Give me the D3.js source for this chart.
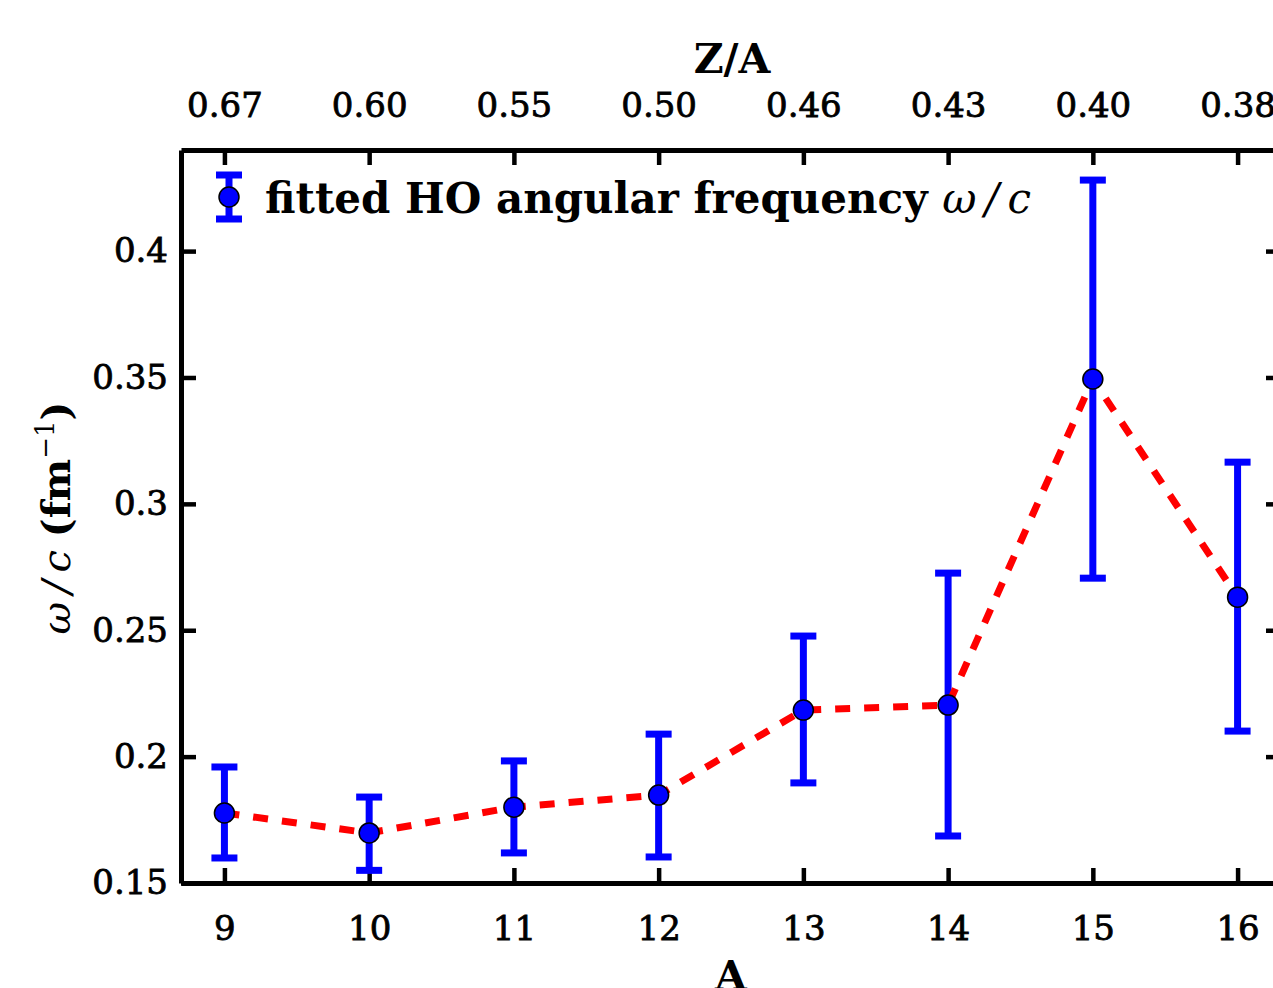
<!DOCTYPE html>
<html>
<head>
<meta charset="utf-8">
<script src="https://cdn.jsdelivr.net/npm/d3@7"></script>
<style>
  body { margin: 0; background: #fff; }
  svg { display: block; font-family: "DejaVu Serif", serif; }
</style>
</head>
<body>
<svg id="chart" width="1273" height="988"></svg>
<script>
// mass number A, fitted omega/c and its error bounds
const massNumbers = [9, 10, 11, 12, 13, 14, 15, 16];
const omegaValues = [0.1777, 0.1698, 0.1800, 0.1848, 0.2184, 0.2204, 0.3494, 0.2631];
const omegaLower  = [0.1599, 0.1550, 0.1619, 0.1603, 0.1896, 0.1686, 0.2706, 0.2101];
const omegaUpper  = [0.1959, 0.1840, 0.1983, 0.2089, 0.2477, 0.2726, 0.4281, 0.3165];
const zOverA      = ["0.67", "0.60", "0.55", "0.50", "0.46", "0.43", "0.40", "0.38"];
const yTicks      = [0.15, 0.2, 0.25, 0.3, 0.35, 0.4];

const svg = d3.select("#chart");
const plotLeft = 181, plotRight = 1281, plotTop = 150, plotBottom = 883;
const blue = "#0000ff", red = "#ff0000";

const data = massNumbers.map((a, i) => ({
  a: a, w: omegaValues[i], lo: omegaLower[i], hi: omegaUpper[i]
}));

const x = d3.scaleLinear().domain([8.7, 16.3]).range([plotLeft, plotRight]);
const y = d3.scaleLinear().domain([0.15, 0.44]).range([plotBottom, plotTop]);

function styleAxis(g) {
  g.select(".domain").attr("stroke", "#000").attr("stroke-width", 5);
  g.selectAll(".tick line").attr("stroke", "#000").attr("stroke-width", 4.5);
  g.selectAll(".tick text")
    .attr("fill", "#000")
    .attr("font-size", 34)
    .attr("font-family", "DejaVu Serif")
    .attr("stroke", "#000")
    .attr("stroke-width", 0.8);
}

// Bottom axis (A)
svg.append("g")
  .attr("transform", `translate(0,${plotBottom})`)
  .call(d3.axisBottom(x).tickValues(massNumbers).tickSizeInner(-15).tickSizeOuter(0).tickPadding(33))
  .call(styleAxis);

// Top axis (Z/A)
svg.append("g")
  .attr("transform", `translate(0,${plotTop})`)
  .call(d3.axisTop(x).tickValues(massNumbers).tickFormat((d, i) => zOverA[i])
    .tickSizeInner(-15).tickSizeOuter(0).tickPadding(33))
  .call(styleAxis);

// Left axis
svg.append("g")
  .attr("transform", `translate(${plotLeft},0)`)
  .call(d3.axisLeft(y).tickValues(yTicks).tickFormat(d => String(+d.toFixed(2)))
    .tickSizeInner(-15).tickSizeOuter(0).tickPadding(13))
  .call(styleAxis);

// Right axis
svg.append("g")
  .attr("transform", `translate(${plotRight},0)`)
  .call(d3.axisRight(y).tickValues(yTicks).tickFormat("").tickSizeInner(-15).tickSizeOuter(0))
  .call(styleAxis);

// Error bars
const bars = svg.append("g");
bars.selectAll(".err")
  .data(data)
  .enter()
  .append("line")
  .attr("x1", d => x(d.a)).attr("x2", d => x(d.a))
  .attr("y1", d => y(d.lo)).attr("y2", d => y(d.hi))
  .attr("stroke", blue).attr("stroke-width", 7);

["lo", "hi"].forEach(k => {
  bars.selectAll(".cap-" + k)
    .data(data)
    .enter()
    .append("line")
    .attr("x1", d => x(d.a) - 13).attr("x2", d => x(d.a) + 13)
    .attr("y1", d => y(d[k])).attr("y2", d => y(d[k]))
    .attr("stroke", blue).attr("stroke-width", 7);
});

// Dashed connecting line
svg.append("path")
  .datum(data)
  .attr("fill", "none")
  .attr("stroke", red)
  .attr("stroke-width", 7)
  .attr("stroke-dasharray", "15,14")
  .attr("d", d3.line().x(d => x(d.a)).y(d => y(d.w)));

// Markers
svg.selectAll(".pt")
  .data(data)
  .enter()
  .append("circle")
  .attr("cx", d => x(d.a))
  .attr("cy", d => y(d.w))
  .attr("r", 10)
  .attr("fill", blue)
  .attr("stroke", "#000")
  .attr("stroke-width", 1.5);

// Legend
const lg = svg.append("g").attr("transform", "translate(229,197)");
lg.append("line").attr("x1", 0).attr("x2", 0).attr("y1", -22).attr("y2", 22)
  .attr("stroke", blue).attr("stroke-width", 7);
[-22, 22].forEach(v => {
  lg.append("line").attr("x1", -13).attr("x2", 13).attr("y1", v).attr("y2", v)
    .attr("stroke", blue).attr("stroke-width", 7);
});
lg.append("circle").attr("r", 10).attr("fill", blue).attr("stroke", "#000").attr("stroke-width", 1.5);
const lt = lg.append("text")
  .attr("x", 36).attr("y", 16)
  .attr("font-size", 42).attr("font-weight", "bold");
lt.append("tspan").text("fitted HO angular frequency ");
lt.append("tspan").attr("font-style", "italic").attr("font-weight", "normal").text("ω\u2009/\u2009c");

// Axis titles
svg.append("text")
  .attr("x", 732).attr("y", 73)
  .attr("text-anchor", "middle")
  .attr("font-size", 41).attr("font-weight", "bold")
  .text("Z/A");

svg.append("text")
  .attr("x", 731).attr("y", 990)
  .attr("text-anchor", "middle")
  .attr("font-size", 41).attr("font-weight", "bold")
  .text("A");

const yl = svg.append("text")
  .attr("transform", "translate(70,518) rotate(-90)")
  .attr("text-anchor", "middle")
  .attr("font-size", 40);
yl.append("tspan").attr("font-style", "italic").text("ω\u2009/\u2009c ");
yl.append("tspan").attr("font-weight", "bold").text("(fm");
yl.append("tspan").attr("font-size", 26).attr("dy", -16).text("−1");
yl.append("tspan").attr("font-weight", "bold").attr("dy", 16).text(")");
</script>
</body>
</html>
